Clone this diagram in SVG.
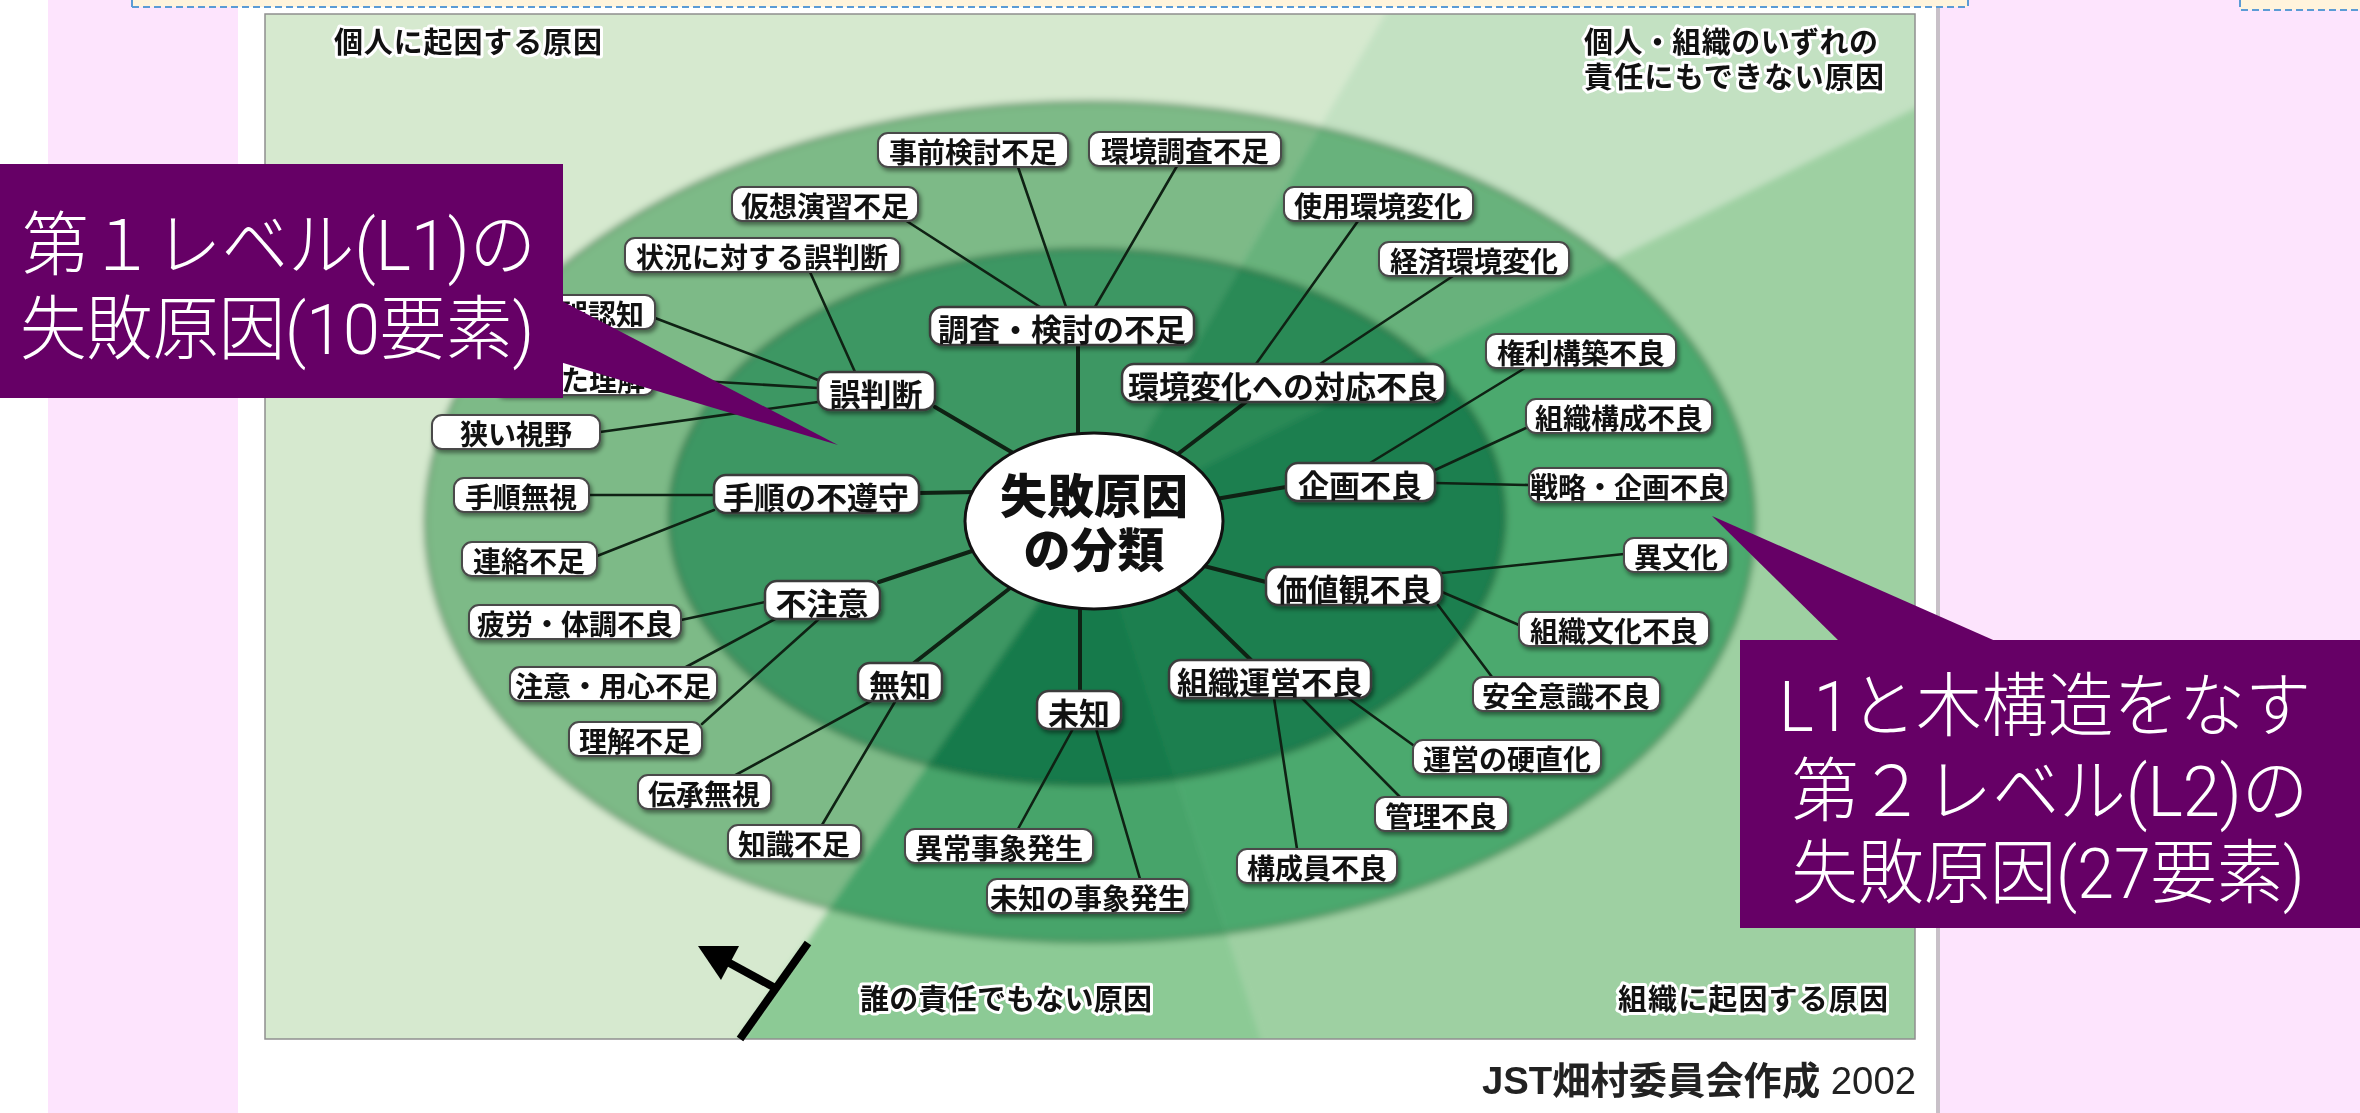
<svg xmlns="http://www.w3.org/2000/svg" width="2360" height="1113" viewBox="0 0 2360 1113">
<defs>
<style>
.l2 rect{fill:#fff;stroke:#4a4a4a;stroke-width:2;filter:url(#sh)}
.l1 rect{fill:#fff;stroke:#3a3a3a;stroke-width:2.5;filter:url(#sh)}
.l2 text{font-family:"Noto Sans CJK JP","Noto Sans",sans-serif;font-weight:700;font-size:28px;fill:#111;text-anchor:middle;dominant-baseline:central}
.l1 text{font-family:"Noto Sans CJK JP","Noto Sans",sans-serif;font-weight:700;font-size:31px;fill:#111;text-anchor:middle;dominant-baseline:central}
.cat{font-family:"Liberation Sans","Noto Sans CJK JP",sans-serif;font-weight:700;font-size:29px;fill:#111;stroke:#fff;stroke-width:6px;stroke-linejoin:round;paint-order:stroke fill}
.co line{stroke:#0f2214;stroke-width:2.6;stroke-linecap:round}
.co line.k{stroke-width:4}
.call{fill:#660066}
.ct{font-family:Roboto,"Noto Sans CJK JP",sans-serif;font-weight:300;font-size:70px;fill:#fff;text-anchor:middle;dominant-baseline:central}
.cc{font-family:"Liberation Sans","Noto Sans CJK JP",sans-serif;font-weight:900;font-size:47px;fill:#111;text-anchor:middle;dominant-baseline:central}
</style>
<filter id="sh" x="-10%" y="-20%" width="125%" height="160%"><feDropShadow dx="2" dy="3" stdDeviation="2" flood-color="#000" flood-opacity="0.45"/></filter>
<filter id="bl" x="-5%" y="-5%" width="110%" height="110%"><feGaussianBlur stdDeviation="3"/></filter>
<clipPath id="pc"><rect x="265" y="14" width="1650" height="1025"/></clipPath>
<clipPath id="sL"><polygon points="1094,521 1450,-100 200,-100 200,1150 664,1150"/></clipPath>
<clipPath id="sT"><polygon points="1094,521 1450,-100 2000,-100 2000,65"/></clipPath>
<clipPath id="sR"><polygon points="1094,521 2000,65 2000,1150 1297,1150"/></clipPath>
<clipPath id="sB"><polygon points="1094,521 1297,1150 664,1150"/></clipPath>
</defs>

<rect x="0" y="0" width="2360" height="1113" fill="#fff"/>
<rect x="48" y="0" width="190" height="1113" fill="#fde4fd"/>
<rect x="1939" y="0" width="421" height="1113" fill="#fde4fd"/>
<rect x="1936" y="0" width="4" height="1113" fill="#c8c0c8"/>
<rect x="132" y="0" width="1836" height="7" fill="#fff4dc"/>
<path d="M132,7 H1968 V0 M132,7 V0" fill="none" stroke="#5b9bd5" stroke-width="2" stroke-dasharray="7 4"/>
<rect x="2240" y="0" width="120" height="10" fill="#fff4dc"/>
<path d="M2240,0 V10 H2360" fill="none" stroke="#5b9bd5" stroke-width="2" stroke-dasharray="7 4"/>

<g id="panel-bg" clip-path="url(#pc)">
<g filter="url(#bl)">
<g clip-path="url(#sL)"><rect x="200" y="-100" width="1800" height="1250" fill="#d6e9cf"/><ellipse cx="1090" cy="522" rx="665" ry="420" fill="#7dba87"/><ellipse cx="1087" cy="517" rx="418" ry="268" fill="#3d9763"/></g>
<g clip-path="url(#sT)"><rect x="200" y="-100" width="1800" height="1250" fill="#c3e1c2"/><ellipse cx="1090" cy="522" rx="665" ry="420" fill="#68b27c"/><ellipse cx="1087" cy="517" rx="418" ry="268" fill="#2a8a57"/></g>
<g clip-path="url(#sR)"><rect x="200" y="-100" width="1800" height="1250" fill="#9ed0a2"/><ellipse cx="1090" cy="522" rx="665" ry="420" fill="#4ca96e"/><ellipse cx="1087" cy="517" rx="418" ry="268" fill="#1c7f4f"/></g>
<g clip-path="url(#sB)"><rect x="200" y="-100" width="1800" height="1250" fill="#8cca95"/><ellipse cx="1090" cy="522" rx="665" ry="420" fill="#46a46a"/><ellipse cx="1087" cy="517" rx="418" ry="268" fill="#177a4b"/></g>
<ellipse cx="1090" cy="522" rx="665" ry="420" fill="none" stroke="#2a5e36" stroke-opacity="0.3" stroke-width="5"/>
<ellipse cx="1087" cy="517" rx="418" ry="268" fill="none" stroke="#1d4f2c" stroke-opacity="0.3" stroke-width="5"/>
</g>
</g>
<rect x="265" y="14" width="1650" height="1025" fill="none" stroke="#8f8f8f" stroke-width="1.5"/>

<g id="labels">
<text class="cat" x="334" y="43" dominant-baseline="central" textLength="268">個人に起因する原因</text>
<text class="cat" x="1584" y="43" dominant-baseline="central" textLength="294">個人・組織のいずれの</text>
<text class="cat" x="1584" y="78" dominant-baseline="central" textLength="300">責任にもできない原因</text>
<text class="cat" x="860" y="1000" dominant-baseline="central" textLength="292">誰の責任でもない原因</text>
<text class="cat" x="1618" y="1000" dominant-baseline="central" textLength="270">組織に起因する原因</text>
</g>

<g id="arrow">
<line x1="740" y1="1039" x2="808" y2="943" stroke="#000" stroke-width="8"/>
<line x1="777" y1="989" x2="724" y2="960" stroke="#000" stroke-width="8"/>
<polygon points="698,946 739,946 721,980" fill="#000"/>
</g>

<g id="connectors" class="co">
<line class="k" x1="1078" y1="450" x2="1078" y2="345"/>
<line class="k" x1="1170" y1="460" x2="1246" y2="402"/>
<line class="k" x1="1210" y1="500" x2="1286" y2="487"/>
<line class="k" x1="1200" y1="565" x2="1266" y2="582"/>
<line class="k" x1="1172" y1="583" x2="1251" y2="660"/>
<line class="k" x1="1080" y1="595" x2="1080" y2="691"/>
<line class="k" x1="1014" y1="585" x2="914" y2="663"/>
<line class="k" x1="978" y1="549" x2="879" y2="582"/>
<line class="k" x1="976" y1="492" x2="919" y2="493"/>
<line class="k" x1="1020" y1="457" x2="935" y2="407"/>
<line x1="1040" y1="307" x2="905" y2="220"/>
<line x1="1066" y1="307" x2="1018" y2="167"/>
<line x1="1095" y1="307" x2="1177" y2="166"/>
<line x1="1256" y1="364" x2="1358" y2="221"/>
<line x1="1320" y1="364" x2="1453" y2="276"/>
<line x1="855" y1="372" x2="810" y2="272"/>
<line x1="818" y1="380" x2="655" y2="318"/>
<line x1="818" y1="388" x2="650" y2="378"/>
<line x1="818" y1="402" x2="600" y2="432"/>
<line x1="714" y1="495" x2="589" y2="495"/>
<line x1="714" y1="510" x2="597" y2="556"/>
<line x1="765" y1="602" x2="681" y2="620"/>
<line x1="777" y1="618" x2="686" y2="667"/>
<line x1="820" y1="618" x2="702" y2="724"/>
<line x1="873" y1="700" x2="732" y2="777"/>
<line x1="896" y1="700" x2="822" y2="825"/>
<line x1="1075" y1="725" x2="1018" y2="829"/>
<line x1="1095" y1="725" x2="1140" y2="879"/>
<line x1="1274" y1="698" x2="1297" y2="849"/>
<line x1="1302" y1="698" x2="1400" y2="797"/>
<line x1="1348" y1="698" x2="1413" y2="745"/>
<line x1="1442" y1="573" x2="1624" y2="554"/>
<line x1="1442" y1="592" x2="1519" y2="625"/>
<line x1="1438" y1="605" x2="1492" y2="677"/>
<line x1="1435" y1="483" x2="1529" y2="485"/>
<line x1="1435" y1="470" x2="1526" y2="428"/>
<line x1="1370" y1="463" x2="1525" y2="368"/>
</g>

<g id="n-center">
<ellipse cx="1094" cy="521" rx="129" ry="88" fill="#fff" stroke="#111" stroke-width="3"/>
<text class="cc" x="1094" y="496">失敗原因</text>
<text class="cc" x="1094" y="550">の分類</text>
</g>

<g id="n-chousa" class="l1"><rect x="930" y="307" width="264" height="38" rx="12"/><text x="1062" y="327">調査・検討の不足</text></g>
<g id="n-kankyo" class="l1"><rect x="1122" y="364" width="323" height="38" rx="12"/><text x="1283" y="384">環境変化への対応不良</text></g>
<g id="n-gohandan" class="l1"><rect x="818" y="372" width="117" height="38" rx="12"/><text x="876" y="392">誤判断</text></g>
<g id="n-tejun" class="l1"><rect x="714" y="475" width="205" height="38" rx="12"/><text x="816" y="495">手順の不遵守</text></g>
<g id="n-kikaku" class="l1"><rect x="1286" y="463" width="149" height="38" rx="12"/><text x="1360" y="483">企画不良</text></g>
<g id="n-fuchui" class="l1"><rect x="765" y="581" width="115" height="38" rx="12"/><text x="822" y="601">不注意</text></g>
<g id="n-kachikan" class="l1"><rect x="1266" y="567" width="176" height="38" rx="12"/><text x="1354" y="587">価値観不良</text></g>
<g id="n-muchi" class="l1"><rect x="858" y="663" width="84" height="38" rx="12"/><text x="900" y="683">無知</text></g>
<g id="n-michi" class="l1"><rect x="1037" y="691" width="84" height="38" rx="12"/><text x="1079" y="711">未知</text></g>
<g id="n-soshikiunei" class="l1"><rect x="1169" y="660" width="202" height="38" rx="12"/><text x="1270" y="680">組織運営不良</text></g>

<g id="n-jizen" class="l2"><rect x="878" y="133" width="190" height="34" rx="10"/><text x="973" y="151">事前検討不足</text></g>
<g id="n-kankyochousa" class="l2"><rect x="1089" y="132" width="192" height="34" rx="10"/><text x="1185" y="150">環境調査不足</text></g>
<g id="n-kasou" class="l2"><rect x="732" y="187" width="186" height="34" rx="10"/><text x="825" y="205">仮想演習不足</text></g>
<g id="n-shiyou" class="l2"><rect x="1284" y="187" width="189" height="34" rx="10"/><text x="1378" y="205">使用環境変化</text></g>
<g id="n-joukyou" class="l2"><rect x="625" y="238" width="275" height="34" rx="10"/><text x="762" y="256">状況に対する誤判断</text></g>
<g id="n-keizai" class="l2"><rect x="1379" y="242" width="190" height="34" rx="10"/><text x="1474" y="260">経済環境変化</text></g>
<g id="n-goninchi" class="l2"><rect x="540" y="295" width="115" height="34" rx="10"/><text x="602" y="313">誤認知</text></g>
<g id="n-rikai" class="l2"><rect x="494" y="361" width="160" height="34" rx="10"/><text x="603" y="379">た理解</text></g>
<g id="n-semai" class="l2"><rect x="432" y="415" width="168" height="34" rx="10"/><text x="516" y="433">狭い視野</text></g>
<g id="n-tejunmushi" class="l2"><rect x="454" y="478" width="135" height="34" rx="10"/><text x="521" y="496">手順無視</text></g>
<g id="n-renraku" class="l2"><rect x="462" y="542" width="135" height="34" rx="10"/><text x="529" y="560">連絡不足</text></g>
<g id="n-hirou" class="l2"><rect x="469" y="605" width="212" height="34" rx="10"/><text x="575" y="623">疲労・体調不良</text></g>
<g id="n-chui" class="l2"><rect x="510" y="667" width="207" height="34" rx="10"/><text x="613" y="685">注意・用心不足</text></g>
<g id="n-rikaifusoku" class="l2"><rect x="569" y="722" width="133" height="34" rx="10"/><text x="635" y="740">理解不足</text></g>
<g id="n-denshou" class="l2"><rect x="638" y="775" width="133" height="34" rx="10"/><text x="704" y="793">伝承無視</text></g>
<g id="n-chishiki" class="l2"><rect x="728" y="825" width="133" height="34" rx="10"/><text x="794" y="843">知識不足</text></g>
<g id="n-ijou" class="l2"><rect x="905" y="829" width="188" height="34" rx="10"/><text x="999" y="847">異常事象発生</text></g>
<g id="n-michijishou" class="l2"><rect x="987" y="879" width="202" height="34" rx="10"/><text x="1088" y="897">未知の事象発生</text></g>
<g id="n-kouseiin" class="l2"><rect x="1237" y="849" width="160" height="34" rx="10"/><text x="1317" y="867">構成員不良</text></g>
<g id="n-kanri" class="l2"><rect x="1375" y="797" width="133" height="34" rx="10"/><text x="1441" y="815">管理不良</text></g>
<g id="n-kouchoku" class="l2"><rect x="1413" y="740" width="188" height="34" rx="10"/><text x="1507" y="758">運営の硬直化</text></g>
<g id="n-anzen" class="l2"><rect x="1473" y="677" width="187" height="34" rx="10"/><text x="1566" y="695">安全意識不良</text></g>
<g id="n-soshikibunka" class="l2"><rect x="1519" y="612" width="190" height="34" rx="10"/><text x="1614" y="630">組織文化不良</text></g>
<g id="n-ibunka" class="l2"><rect x="1624" y="538" width="104" height="34" rx="10"/><text x="1676" y="556">異文化</text></g>
<g id="n-senryaku" class="l2"><rect x="1529" y="468" width="199" height="34" rx="10"/><text x="1628" y="486">戦略・企画不良</text></g>
<g id="n-soshikikousei" class="l2"><rect x="1526" y="399" width="186" height="34" rx="10"/><text x="1619" y="417">組織構成不良</text></g>
<g id="n-kenri" class="l2"><rect x="1486" y="334" width="190" height="34" rx="10"/><text x="1581" y="352">権利構築不良</text></g>

<g id="credit"><text x="1916" y="1081" font-family="'Liberation Sans','Noto Sans CJK JP',sans-serif" font-weight="700" font-size="38" fill="#222" text-anchor="end" dominant-baseline="central" textLength="434" lengthAdjust="spacingAndGlyphs">JST畑村委員会作成 <tspan font-weight="400">2002</tspan></text></g>

<g id="callout-1">
<rect class="call" x="0" y="164" width="563" height="234"/>
<polygon class="call" points="560,300 838,445 560,362"/>
<text class="ct" x="279" y="246" textLength="514" lengthAdjust="spacingAndGlyphs">第１レベル(L1)の</text>
<text class="ct" x="277" y="330" textLength="514" lengthAdjust="spacingAndGlyphs">失敗原因(10要素)</text>
</g>
<g id="callout-2">
<rect class="call" x="1740" y="640" width="620" height="288"/>
<polygon class="call" points="1712,516 1841,643 2000,643"/>
<text class="ct" x="2045" y="707" textLength="532" lengthAdjust="spacingAndGlyphs">L1と木構造をなす</text>
<text class="ct" x="2050" y="792" textLength="517" lengthAdjust="spacingAndGlyphs">第２レベル(L2)の</text>
<text class="ct" x="2048" y="874" textLength="513" lengthAdjust="spacingAndGlyphs">失敗原因(27要素)</text>
</g>
</svg>
